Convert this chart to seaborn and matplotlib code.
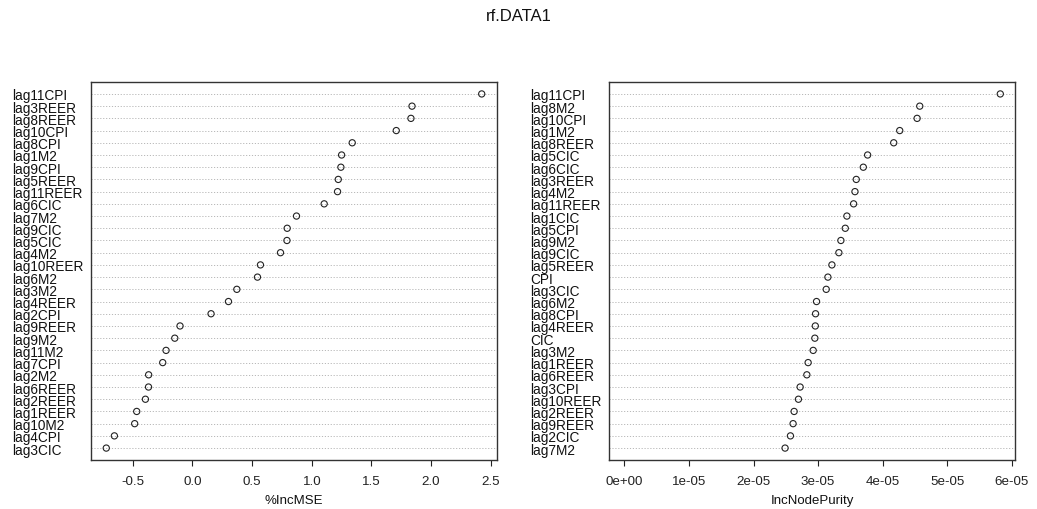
import matplotlib
matplotlib.use("Agg")
import matplotlib.pyplot as plt
import seaborn as sns
import pandas as pd

# Variable importance from the random forest, sorted from most to least important
mse_vars = ["lag11CPI", "lag3REER", "lag8REER", "lag10CPI", "lag8CPI", "lag1M2",
            "lag9CPI", "lag5REER", "lag11REER", "lag6CIC", "lag7M2", "lag9CIC",
            "lag5CIC", "lag4M2", "lag10REER", "lag6M2", "lag3M2", "lag4REER",
            "lag2CPI", "lag9REER", "lag9M2", "lag11M2", "lag7CPI", "lag2M2",
            "lag6REER", "lag2REER", "lag1REER", "lag10M2", "lag4CPI", "lag3CIC"]
inc_mse = [2.424, 1.840, 1.831, 1.708, 1.339, 1.250,
           1.244, 1.222, 1.216, 1.104, 0.872, 0.794,
           0.792, 0.738, 0.570, 0.545, 0.372, 0.302,
           0.156, -0.104, -0.148, -0.221, -0.249, -0.367,
           -0.368, -0.394, -0.467, -0.484, -0.654, -0.722]

purity_vars = ["lag11CPI", "lag8M2", "lag10CPI", "lag1M2", "lag8REER", "lag5CIC",
               "lag6CIC", "lag3REER", "lag4M2", "lag11REER", "lag1CIC", "lag5CPI",
               "lag9M2", "lag9CIC", "lag5REER", "CPI", "lag3CIC", "lag6M2",
               "lag8CPI", "lag4REER", "CIC", "lag3M2", "lag1REER", "lag6REER",
               "lag3CPI", "lag10REER", "lag2REER", "lag9REER", "lag2CIC", "lag7M2"]
inc_node_purity = [5.820e-05, 4.573e-05, 4.532e-05, 4.263e-05, 4.170e-05, 3.766e-05,
                   3.699e-05, 3.590e-05, 3.570e-05, 3.549e-05, 3.445e-05, 3.420e-05,
                   3.352e-05, 3.321e-05, 3.213e-05, 3.151e-05, 3.125e-05, 2.975e-05,
                   2.960e-05, 2.956e-05, 2.949e-05, 2.923e-05, 2.845e-05, 2.825e-05,
                   2.721e-05, 2.695e-05, 2.628e-05, 2.612e-05, 2.571e-05, 2.488e-05]

mse_ticks = [-0.5, 0.0, 0.5, 1.0, 1.5, 2.0, 2.5]
mse_ticklabels = ["-0.5", "0.0", "0.5", "1.0", "1.5", "2.0", "2.5"]
purity_ticks = [0, 1e-05, 2e-05, 3e-05, 4e-05, 5e-05, 6e-05]
purity_ticklabels = ["0e+00", "1e-05", "2e-05", "3e-05", "4e-05", "5e-05", "6e-05"]

sns.set_theme(style="white")
plt.rcParams["font.family"] = ["Liberation Sans", "DejaVu Sans"]
plt.rcParams["axes.unicode_minus"] = False

fig = plt.figure(figsize=(10.37, 5.10), dpi=100)
ax1 = fig.add_axes([0.0880, 0.0955, 0.3910, 0.7423])
ax2 = fig.add_axes([0.5876, 0.0955, 0.3915, 0.7423])


def dot_panel(ax, names, values, ticks, ticklabels, xlabel, xlim):
    # bottom row first so the most important variable ends up on top
    df = pd.DataFrame({"var": names[::-1], "val": values[::-1]})
    ax.grid(False)
    sns.scatterplot(data=df, x="val", y="var", ax=ax, marker="o", s=20,
                    facecolor="none", edgecolor="#222222", linewidth=0.8,
                    zorder=3, legend=False)
    ax.set_yticks(range(len(names)))
    ax.set_yticklabels(names[::-1])
    ax.yaxis.grid(True, linestyle=(0, (1.2, 1.8)), color="#b8b8b8", linewidth=0.7)
    ax.set_axisbelow(True)
    ax.set_ylim(-1, len(names))
    ax.set_xlim(*xlim)
    ax.set_xticks(ticks)
    ax.set_xticklabels(ticklabels)
    ax.set_xlabel(xlabel, fontsize=9.5, color="#111111", labelpad=5)
    ax.set_ylabel("")
    ax.tick_params(axis="x", direction="out", length=4.3, width=0.8,
                   colors="#222222", labelsize=9.6, pad=6.5, bottom=True)
    ax.tick_params(axis="y", length=0, pad=57.3, labelsize=9.8,
                   labelcolor="#111111")
    for lab in ax.get_yticklabels():
        lab.set_horizontalalignment("left")
    for sp in ax.spines.values():
        sp.set_color("#333333")
        sp.set_linewidth(1.0)


lo, hi = min(inc_mse), max(inc_mse)
pad = 0.04 * (hi - lo)
dot_panel(ax1, mse_vars, inc_mse, mse_ticks, mse_ticklabels, "%IncMSE",
          (lo - pad, hi + pad))

hi2 = max(inc_node_purity)
pad2 = 0.04 * hi2
dot_panel(ax2, purity_vars, inc_node_purity, purity_ticks, purity_ticklabels,
          "IncNodePurity", (-pad2, hi2 + pad2))

fig.suptitle("rf.DATA1", x=0.5, y=0.982, fontsize=12, color="#111111")

fig.savefig("out.png", dpi=100)
